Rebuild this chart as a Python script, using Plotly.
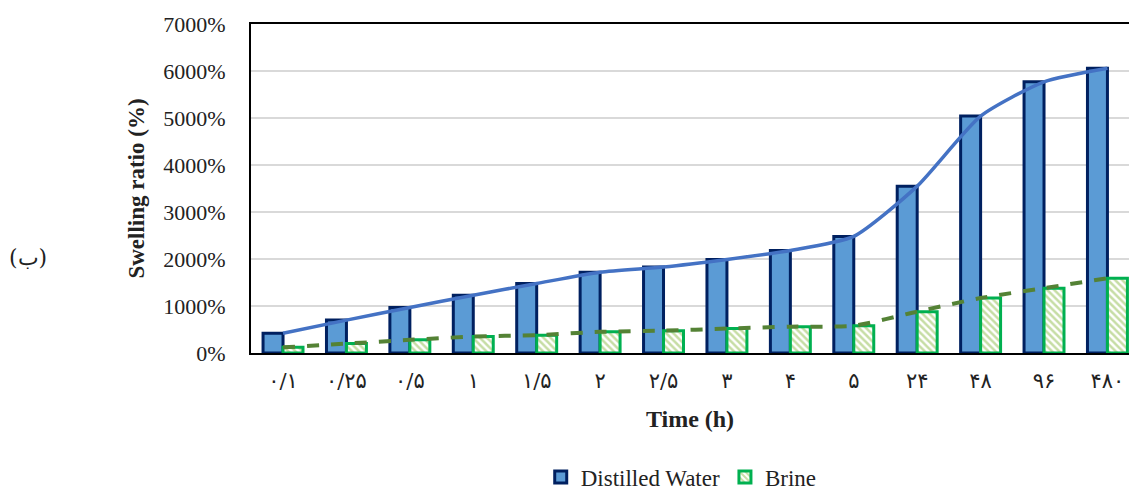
import plotly.graph_objects as go

categories = ["۰/۱", "۰/۲۵", "۰/۵", "۱", "۱/۵", "۲", "۲/۵", "۳", "۴", "۵", "۲۴", "۴۸", "۹۶", "۴۸۰"]
distilled_water = [420, 700, 970, 1230, 1480, 1720, 1830, 1990, 2180, 2480, 3550, 5040, 5770, 6060]
brine = [120, 200, 280, 350, 380, 450, 475, 520, 560, 580, 880, 1170, 1380, 1590]
y_ticks = [0, 1000, 2000, 3000, 4000, 5000, 6000, 7000]
y_tick_labels = [f"{v}%" for v in y_ticks]

FONT = "Liberation Serif"
x_idx = list(range(len(categories)))

fig = go.Figure()
fig.add_trace(go.Bar(
    x=x_idx, y=distilled_water, name="Distilled Water",
    marker=dict(color="#5B9BD5", line=dict(color="#002060", width=3)),
))
fig.add_trace(go.Bar(
    x=x_idx, y=brine, name="Brine",
    marker=dict(color="white", line=dict(color="#00B050", width=3),
                pattern=dict(shape="\\", fgcolor="#8DBB4A", bgcolor="white",
                             size=5, solidity=0.5)),
))
fig.add_trace(go.Scatter(
    x=x_idx, y=distilled_water, mode="lines", showlegend=False,
    line=dict(color="#4472C4", width=3.5, shape="spline", smoothing=0.6),
))
fig.add_trace(go.Scatter(
    x=x_idx, y=brine, mode="lines", showlegend=False,
    line=dict(color="#548235", width=4, dash="dash", shape="spline", smoothing=0.6),
))

fig.update_layout(
    width=1129, height=492,
    margin=dict(l=251, r=0, t=24, b=139, autoexpand=False),
    paper_bgcolor="white", plot_bgcolor="white",
    barmode="group", bargap=0.37, bargroupgap=0,
    font=dict(family=FONT, size=22, color="#222222"),
    legend=dict(orientation="h", x=0.49, xanchor="center", y=-0.377, yanchor="middle",
                font=dict(family=FONT, size=23, color="#222222"),
                itemwidth=30, traceorder="normal"),
    showlegend=True,
)
fig.update_xaxes(
    tickmode="array", tickvals=x_idx, ticktext=categories,
    range=[-0.505, 13.34], automargin=False, ticklabeloverflow="allow",
    showline=True, linecolor="black", linewidth=2, mirror=True,
    showgrid=False, ticks="", ticklabelstandoff=8,
    tickfont=dict(family="DejaVu Serif, DejaVu Sans, serif", size=21, color="#222222"),
    title=dict(text="<b>Time (h)</b>", font=dict(family=FONT, size=24, color="#222222"), standoff=18),
)
fig.update_yaxes(
    range=[0, 7000], tickmode="array", tickvals=y_ticks, ticktext=y_tick_labels,
    automargin=False,
    showline=True, linecolor="black", linewidth=2, mirror=False,
    showgrid=True, gridcolor="#D9D9D9", gridwidth=1.5, zeroline=False,
    ticks="", ticklabelstandoff=19,
    tickfont=dict(family=FONT, size=22, color="#222222"),
    title=dict(text="<b>Swelling ratio (%)</b>", font=dict(family=FONT, size=23, color="#222222"), standoff=12),
)
fig.add_annotation(
    text="(ب)", xref="paper", yref="paper", x=-0.254, y=0.289, xanchor="center", yanchor="middle",
    showarrow=False, font=dict(family="DejaVu Serif, serif", size=22, color="#222222"),
)

fig.write_html("out.html", config={"displayModeBar": False},
               post_script="document.body.style.margin='0';")
